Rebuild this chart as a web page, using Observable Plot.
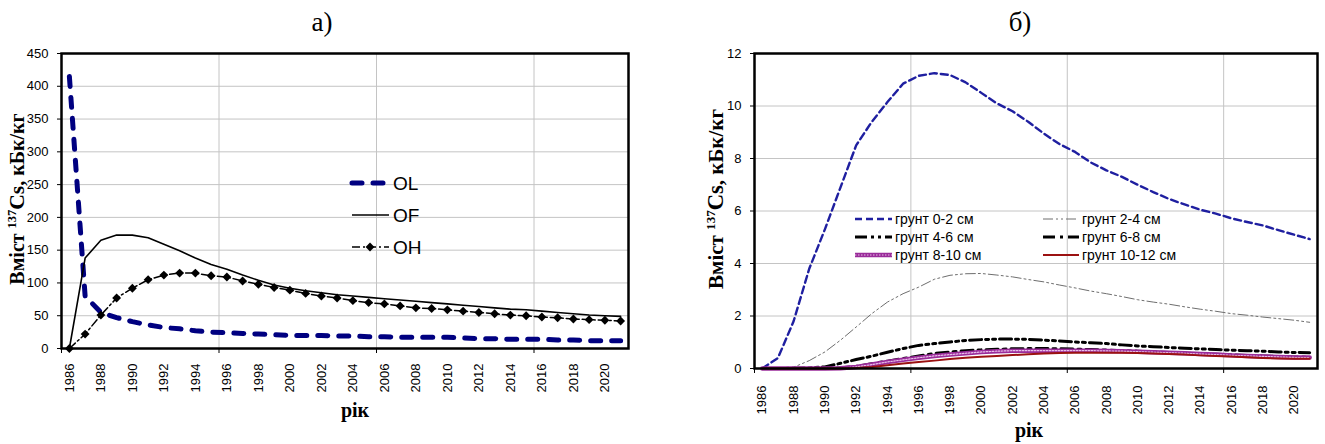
<!DOCTYPE html>
<html><head><meta charset="utf-8">
<script src="https://cdn.jsdelivr.net/npm/d3@7"></script>
<script src="https://cdn.jsdelivr.net/npm/@observablehq/plot@0.6"></script>
<style>
body{margin:0;background:#fff;}
#wrap{position:relative;width:1325px;height:444px;overflow:hidden;background:#fff;}
.title{position:absolute;top:9px;width:80px;text-align:center;font-family:"Liberation Serif","Times New Roman",serif;font-size:27px;line-height:1;color:#000;}
.panel{position:absolute;top:40px;}
</style></head><body>
<div id="wrap">
<div class="title" style="left:282px">а)</div>
<div class="title" style="left:980px">б)</div>
<div class="panel" id="pa" style="left:0px"></div>
<div class="panel" id="pb" style="left:660px"></div>
</div>
<script>
// ---------- data ----------
const years = [1986,1987,1988,1989,1990,1991,1992,1993,1994,1995,1996,1997,1998,1999,2000,2001,2002,2003,2004,2005,2006,2007,2008,2009,2010,2011,2012,2013,2014,2015,2016,2017,2018,2019,2020,2021];
const yearLabels = [1986,1988,1990,1992,1994,1996,1998,2000,2002,2004,2006,2008,2010,2012,2014,2016,2018,2020];

// panel a)
const ticksA = [0,50,100,150,200,250,300,350,400,450];
const OL = [415,80,55,47,41,36,32,30,27,25,24,23,22,21,20,20,20,19,19,18,18,17,17,17,17,16,15,15,14,14,14,13,13,12,12,12];
const OF = [0,138,165,173,173,169,159,149,138,128,121,112,104,97,92,88,85,82,80,78,76,74,72,70,68,66,64,62,60,59,57,55,53,51,50,49];
const OH = [0,22,51,77,92,105,112,115,115,111,109,103,98,93,89,84,80,77,73,70,68,65,62,61,59,57,55,53,51,50,48,47,45,44,43,42];
const legendA = ["OL","OF","OH"];

// panel б)
const ticksB = [0,2,4,6,8,10,12];
const s0_2  = [0,0.4,1.8,3.8,5.3,6.9,8.5,9.4,10.15,10.85,11.15,11.25,11.18,10.9,10.5,10.1,9.8,9.4,8.95,8.55,8.25,7.85,7.55,7.3,7.0,6.72,6.46,6.25,6.05,5.9,5.72,5.58,5.45,5.27,5.1,4.93];
const s2_4  = [0,0,0.05,0.3,0.63,1.08,1.58,2.09,2.53,2.85,3.1,3.4,3.55,3.61,3.62,3.56,3.49,3.39,3.3,3.18,3.07,2.95,2.85,2.74,2.62,2.53,2.45,2.35,2.26,2.18,2.09,2.03,1.96,1.9,1.84,1.76];
const s4_6  = [0,0,0.01,0.02,0.06,0.2,0.34,0.47,0.62,0.76,0.88,0.95,1.01,1.07,1.1,1.12,1.12,1.11,1.08,1.05,1.01,0.98,0.95,0.9,0.86,0.83,0.8,0.77,0.75,0.72,0.7,0.68,0.66,0.63,0.61,0.6];
const s6_8  = [0,0,0,0,0,0.02,0.08,0.18,0.28,0.38,0.48,0.57,0.63,0.68,0.71,0.73,0.75,0.76,0.76,0.75,0.74,0.72,0.7,0.68,0.66,0.63,0.61,0.58,0.56,0.54,0.52,0.5,0.48,0.46,0.44,0.43];
const s8_10 = [0,0,0,0,0,0.01,0.06,0.15,0.25,0.33,0.41,0.48,0.53,0.58,0.63,0.66,0.68,0.68,0.68,0.68,0.68,0.68,0.67,0.66,0.64,0.62,0.6,0.58,0.55,0.53,0.5,0.48,0.46,0.44,0.42,0.42];
const s10_12= [0,0,0,0,0,0,0.02,0.06,0.12,0.19,0.25,0.3,0.36,0.41,0.45,0.48,0.51,0.54,0.57,0.59,0.6,0.6,0.6,0.6,0.59,0.57,0.55,0.53,0.5,0.48,0.46,0.43,0.4,0.38,0.37,0.37];
const legendB = ["грунт 0-2 см","грунт 2-4 см","грунт 4-6 см","грунт 6-8 см","грунт 8-10 см","грунт 10-12 см"];
const yLabelMain = "Вміст ", yLabelSup = "137", yLabelCs = "Cs", yLabelRest = ", кБк/кг";
const xLabel = "рік";

// ---------- helpers ----------
const table = arr => years.map((y,i) => ({year:y, value:arr[i]}));
const xDomain = [years[0]-0.5, years[years.length-1]+0.5];
const bounds = years.filter((y,i)=>i%10===0).map(y=>y-0.5);
const fmt = d => String(d);
const sansFont = "'Liberation Sans', Arial, sans-serif";
const serifFont = "'Liberation Serif', 'Times New Roman', serif";

function yLabel(svg, x, y, size) {
  const t = svg.append("text").attr("transform", `translate(${x},${y}) rotate(-90)`)
    .attr("text-anchor","middle").attr("font-family", serifFont).attr("font-weight","bold")
    .attr("font-size", size).attr("fill","black");
  t.append("tspan").text(yLabelMain);
  t.append("tspan").attr("font-size", size*0.62).attr("dy", -size*0.38).text(yLabelSup);
  t.append("tspan").attr("dy", size*0.38).attr("font-size", size*1.08).text(yLabelCs);
  t.append("tspan").text(yLabelRest);
}
function xLab(svg, x, y) {
  svg.append("text").attr("x",x).attr("y",y).attr("text-anchor","middle")
    .attr("font-family", serifFont).attr("font-weight","bold").attr("font-size",20).text(xLabel);
}

// ---------- panel a ----------
const tOL = table(OL), tOF = table(OF), tOH = table(OH);
const styleOL = {stroke:"#000080", strokeWidth:5, strokeDasharray:"10,11", strokeLinecap:"round"};
const styleOF = {stroke:"black", strokeWidth:1.6};
const styleOH = {stroke:"black", strokeWidth:1.5, strokeDasharray:"8,3,2,3"};
const pa = Plot.plot({
  width:660, height:404, marginLeft:61, marginRight:32, marginTop:13, marginBottom:96,
  x:{domain:xDomain, axis:null}, y:{domain:[0,450], axis:null},
  style:{fontFamily:sansFont, fontSize:"13px", background:"white", overflow:"visible", color:"black"},
  marks:[
    Plot.ruleY(ticksA.slice(1,-1), {stroke:"#c4c4c4", strokeWidth:1}),
    Plot.ruleX(bounds.slice(1), {stroke:"#c4c4c4", strokeWidth:1}),
    Plot.axisY({ticks:ticksA, tickSize:4, tickPadding:9, fontSize:13, label:null, tickFormat:fmt}),
    Plot.axisX({ticks:yearLabels, tickSize:0, tickPadding:15, tickRotate:-90, fontSize:13, label:null, tickFormat:fmt}),
    Plot.axisX({ticks:bounds, tickSize:5, label:null, tickFormat:()=>""}),
    Plot.line(tOL, {x:"year", y:"value", ...styleOL}),
    Plot.line(tOF, {x:"year", y:"value", ...styleOF}),
    Plot.line(tOH, {x:"year", y:"value", ...styleOH}),
    Plot.dot(tOH, {x:"year", y:"value", symbol:"diamond2", r:4, fill:"black", stroke:null}),
    Plot.frame({stroke:"black", strokeWidth:2.5})
  ]
});
document.getElementById("pa").appendChild(pa);
{
  const svg = d3.select(pa);
  yLabel(svg, 24, 159, 20);
  xLab(svg, 355, 377);
  const g = svg.append("g");
  const rows = [143,175,207];
  const st = [styleOL, styleOF, styleOH];
  legendA.forEach((name,i)=>{
    const s = st[i];
    g.append("line").attr("x1",352).attr("x2",389).attr("y1",rows[i]).attr("y2",rows[i])
      .attr("stroke",s.stroke).attr("stroke-width",s.strokeWidth)
      .attr("stroke-dasharray",s.strokeDasharray||null).attr("stroke-linecap",s.strokeLinecap||null);
    if (name==="OH") g.append("path").attr("d", d3.symbol(d3.symbolDiamond2, 50)())
      .attr("transform",`translate(370,${rows[i]})`).attr("fill","black");
    g.append("text").attr("x",393).attr("y",rows[i]).attr("dy","0.36em").attr("text-anchor","start")
      .attr("font-family",sansFont).attr("font-size",19).text(name);
  });
}

// ---------- panel б ----------
const seriesB = [
  {data:s0_2,  style:{stroke:"#1f1fa0", strokeWidth:2.4, strokeDasharray:"7,4"}},
  {data:s2_4,  style:{stroke:"#6e6e6e", strokeWidth:1, strokeDasharray:"10,3,2,3,2,3"}},
  {data:s4_6,  style:{stroke:"black", strokeWidth:3, strokeDasharray:"12,4,3,4,3,4"}},
  {data:s6_8,  style:{stroke:"black", strokeWidth:3, strokeDasharray:"12,5,3,5"}},
  {data:s8_10, style:{stroke:"#9a2c9a", strokeWidth:4.5}, overlay:{stroke:"#e8bde8", strokeWidth:1.2, strokeDasharray:"1.5,1.5"}},
  {data:s10_12,style:{stroke:"#9b1111", strokeWidth:2}}
];
const linesB = [];
seriesB.forEach(s=>{
  const t = table(s.data);
  linesB.push(Plot.line(t, {x:"year", y:"value", ...s.style}));
  if (s.overlay) linesB.push(Plot.line(t, {x:"year", y:"value", ...s.overlay}));
});
const pb = Plot.plot({
  width:665, height:404, marginLeft:94, marginRight:8, marginTop:13, marginBottom:76,
  x:{domain:xDomain, axis:null}, y:{domain:[0,12], axis:null},
  style:{fontFamily:sansFont, fontSize:"13px", background:"white", overflow:"visible", color:"black"},
  marks:[
    Plot.ruleY(ticksB.slice(1,-1), {stroke:"#c4c4c4", strokeWidth:1}),
    Plot.ruleX(bounds.slice(1), {stroke:"#c4c4c4", strokeWidth:1}),
    Plot.axisY({ticks:ticksB, tickSize:4, tickPadding:9, fontSize:13, label:null, tickFormat:fmt}),
    Plot.axisX({ticks:yearLabels, tickSize:0, tickPadding:17, tickRotate:-90, fontSize:13, label:null, tickFormat:fmt}),
    Plot.axisX({ticks:bounds, tickSize:5, label:null, tickFormat:()=>""}),
    ...linesB,
    Plot.frame({stroke:"black", strokeWidth:2.5})
  ]
});
document.getElementById("pb").appendChild(pb);
{
  const svg = d3.select(pb);
  yLabel(svg, 63, 159, 21);
  xLab(svg, 369, 397);
  const g = svg.append("g");
  const cols = [[195,232,235],[383,419,422]];
  const rows = [179,197,215];
  legendB.forEach((name,i)=>{
    const c = cols[i%2], r = rows[Math.floor(i/2)], s = seriesB[i];
    const addLine = st => g.append("line").attr("x1",c[0]).attr("x2",c[1]).attr("y1",r).attr("y2",r)
      .attr("stroke",st.stroke).attr("stroke-width",st.strokeWidth).attr("stroke-dasharray",st.strokeDasharray||null);
    addLine(s.style);
    if (s.overlay) addLine(s.overlay);
    g.append("text").attr("x",c[2]).attr("y",r).attr("dy","0.36em").attr("text-anchor","start")
      .attr("font-family",sansFont).attr("font-size",14).text(name);
  });
}
</script>
</body></html>
